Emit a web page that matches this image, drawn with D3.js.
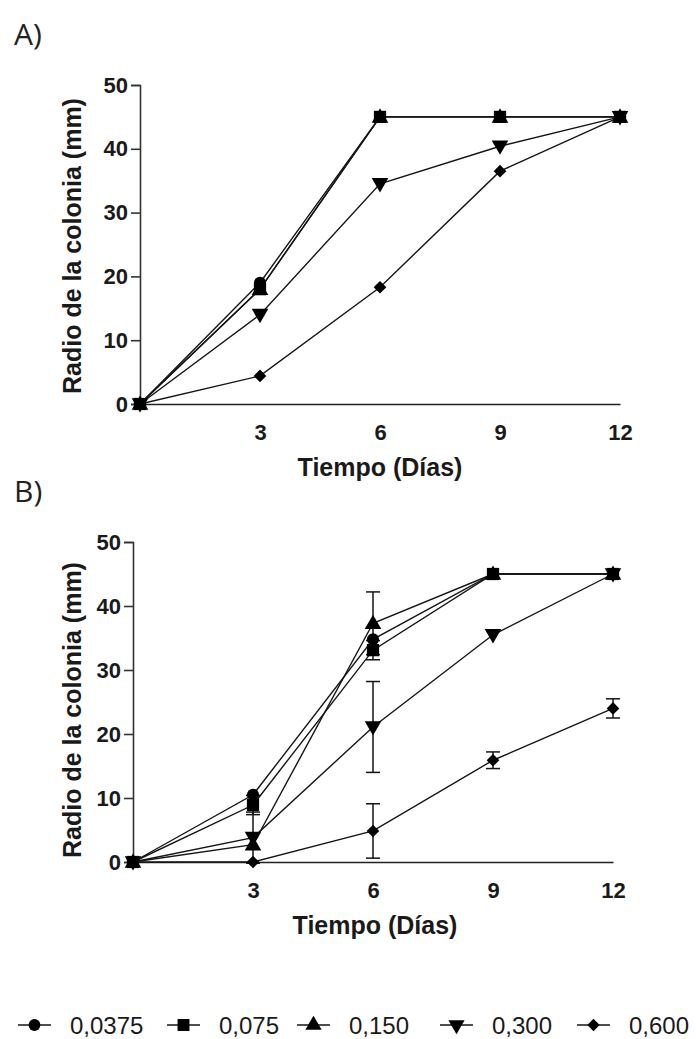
<!DOCTYPE html>
<html><head><meta charset="utf-8">
<script src="https://cdn.jsdelivr.net/npm/d3@7"></script>
<style>
body{margin:0;background:#fff;}
svg{display:block;}
</style></head>
<body>
<svg id="c" width="696" height="1039"></svg>
<script>
const days = [0, 3, 6, 9, 12];
const xTicks = [3, 6, 9, 12];
const yTicks = [0, 10, 20, 30, 40, 50];
const seriesNames = ["0,0375", "0,075", "0,150", "0,300", "0,600"];
const seriesShapes = ["circle", "square", "triangle", "triangleDown", "diamond"];

// Panel A values
const A_0375 = [0, 19, 45, 45, 45];
const A_075  = [0, 18, 45, 45, 45];
const A_150  = [0, 18, 45, 45, 45];
const A_300  = [0, 14, 34.5, 40.4, 45];
const A_600  = [0, 4.4, 18.3, 36.5, 45];

// Panel B values and errors
const B_0375 = [0, 10.5, 34.8, 45, 45];
const B_075  = [0, 8.9, 33.1, 45, 45];
const B_150  = [0, 2.7, 37.3, 45, 45];
const B_300  = [0, 3.8, 21.1, 35.5, 45];
const B_600  = [0, 0, 4.85, 15.9, 24];
const B_0375_err = [0, 0, 0, 0, 0];
const B_075_err  = [0, 1.5, 1.5, 0, 0];
const B_150_err  = [0, 0, 4.9, 0, 0];
const B_300_err  = [0, 4, 7.1, 0, 0];
const B_600_err  = [0, 0, 4.25, 1.3, 1.5];

const svg = d3.select("#c");
const INK = "#151515";
const FONT = "Liberation Sans, Arial, sans-serif";

const diamondType = {
  draw(ctx, size) {
    const r = Math.sqrt(size / 2);
    ctx.moveTo(0, -r); ctx.lineTo(r, 0); ctx.lineTo(0, r); ctx.lineTo(-r, 0); ctx.closePath();
  }
};
function symbolFor(shape, size) {
  const t = {circle: d3.symbolCircle, square: d3.symbolSquare, triangle: d3.symbolTriangle,
             triangleDown: d3.symbolTriangle, diamond: diamondType}[shape];
  return d3.symbol().type(t).size(size)();
}
const sizes = {circle: 115, square: 150, triangle: 120, triangleDown: 120, diamond: 80};

function panel(cfg) {
  const g = svg.append("g");
  const x = d3.scaleLinear().domain([0, 12]).range([cfg.x0, cfg.x1]);
  const y = d3.scaleLinear().domain([0, 50]).range([cfg.y0, cfg.y1]);

  const ya = g.append("g").attr("transform", `translate(${cfg.x0},0)`)
    .call(d3.axisLeft(y).tickValues(yTicks).tickSize(9).tickPadding(3));
  ya.select(".domain").attr("stroke", "#333").attr("stroke-width", 1.6);
  ya.selectAll(".tick line").attr("stroke", "#333").attr("stroke-width", 1.6);
  ya.selectAll(".tick text").attr("font-family", FONT)
    .attr("font-weight", "bold").attr("font-size", 22).attr("fill", "#1a1a1a");

  const xa = g.append("g").attr("transform", `translate(0,${cfg.y0})`)
    .call(d3.axisBottom(x).tickValues(xTicks).tickSize(0).tickPadding(20));
  xa.select(".domain").attr("stroke", "#222").attr("stroke-width", 1.4);
  xa.selectAll(".tick text").attr("font-family", FONT)
    .attr("font-weight", "bold").attr("font-size", 22).attr("fill", "#1a1a1a");

  g.append("text").attr("x", cfg.xLabelX).attr("y", cfg.xLabelY)
    .attr("text-anchor", "middle").attr("font-family", FONT)
    .attr("font-weight", "bold").attr("font-size", 25).attr("fill", "#1a1a1a")
    .text("Tiempo (Días)");
  g.append("text").attr("transform", `translate(${cfg.yLabelX},${cfg.yLabelY}) rotate(-90)`)
    .attr("text-anchor", "middle").attr("font-family", FONT)
    .attr("font-weight", "bold").attr("font-size", 25).attr("fill", "#1a1a1a")
    .text("Radio de la colonia (mm)");

  g.append("text").attr("x", 14).attr("y", cfg.letterY)
    .attr("font-family", "Open Sans, sans-serif").attr("font-size", 30).attr("fill", "#222")
    .text(cfg.letter);

  const line = d3.line().x((d, i) => x(days[i])).y(d => y(d));
  const order = cfg.order;
  order.forEach(si => {
    g.append("path").attr("d", line(cfg.series[si])).attr("fill", "none")
      .attr("stroke", INK).attr("stroke-width", 1.4);
  });
  if (cfg.errors) {
    order.forEach(si => {
      cfg.errors[si].forEach((e, i) => {
        if (!e) return;
        const v = cfg.series[si][i];
        const cx = x(days[i]);
        const top = y(v + e), bot = y(Math.max(v - e, -0.3));
        g.append("line").attr("x1", cx).attr("x2", cx).attr("y1", top).attr("y2", bot)
          .attr("stroke", INK).attr("stroke-width", 1.5);
        [top, bot].forEach(yy => g.append("line").attr("x1", cx - 7).attr("x2", cx + 7)
          .attr("y1", yy).attr("y2", yy).attr("stroke", INK).attr("stroke-width", 1.5));
      });
    });
  }
  order.forEach(si => {
    const shape = seriesShapes[si];
    cfg.series[si].forEach((v, i) => {
      g.append("path").attr("d", symbolFor(shape, sizes[shape]))
        .attr("transform", `translate(${x(days[i])},${y(v) + (shape === "triangle" ? 1 : shape === "triangleDown" ? -1 : 0)})` + (shape === "triangleDown" ? " rotate(180)" : ""))
        .attr("fill", "#000");
    });
  });
}

panel({letter: "A)", letterY: 45, x0: 140, x1: 620, y0: 404, y1: 85,
  xLabelX: 380, xLabelY: 476, yLabelX: 81, yLabelY: 246,
  series: [A_0375, A_075, A_150, A_300, A_600], order: [2, 0, 1, 3, 4]});

panel({letter: "B)", letterY: 502, x0: 133, x1: 613, y0: 862, y1: 542,
  xLabelX: 375, xLabelY: 934, yLabelX: 81, yLabelY: 710,
  series: [B_0375, B_075, B_150, B_300, B_600],
  errors: [B_0375_err, B_075_err, B_150_err, B_300_err, B_600_err], order: [0, 1, 2, 3, 4]});

const legendX = [18, 167, 297, 440, 577];
const lg = svg.append("g");
seriesNames.forEach((name, i) => {
  const lx = legendX[i], ly = 1025;
  lg.append("line").attr("x1", lx).attr("x2", lx + 33).attr("y1", ly).attr("y2", ly)
    .attr("stroke", INK).attr("stroke-width", 1.6);
  const shape = seriesShapes[i];
  lg.append("path").attr("d", symbolFor(shape, sizes[shape] * 0.95))
    .attr("transform", `translate(${lx + 16.5},${ly})` + (shape === "triangleDown" ? " rotate(180)" : ""))
    .attr("fill", "#000");
  lg.append("text").attr("x", lx + 52).attr("y", ly + 9)
    .attr("font-family", FONT).attr("font-size", 24)
    .attr("fill", "#1a1a1a").text(name);
});
</script>
</body></html>
